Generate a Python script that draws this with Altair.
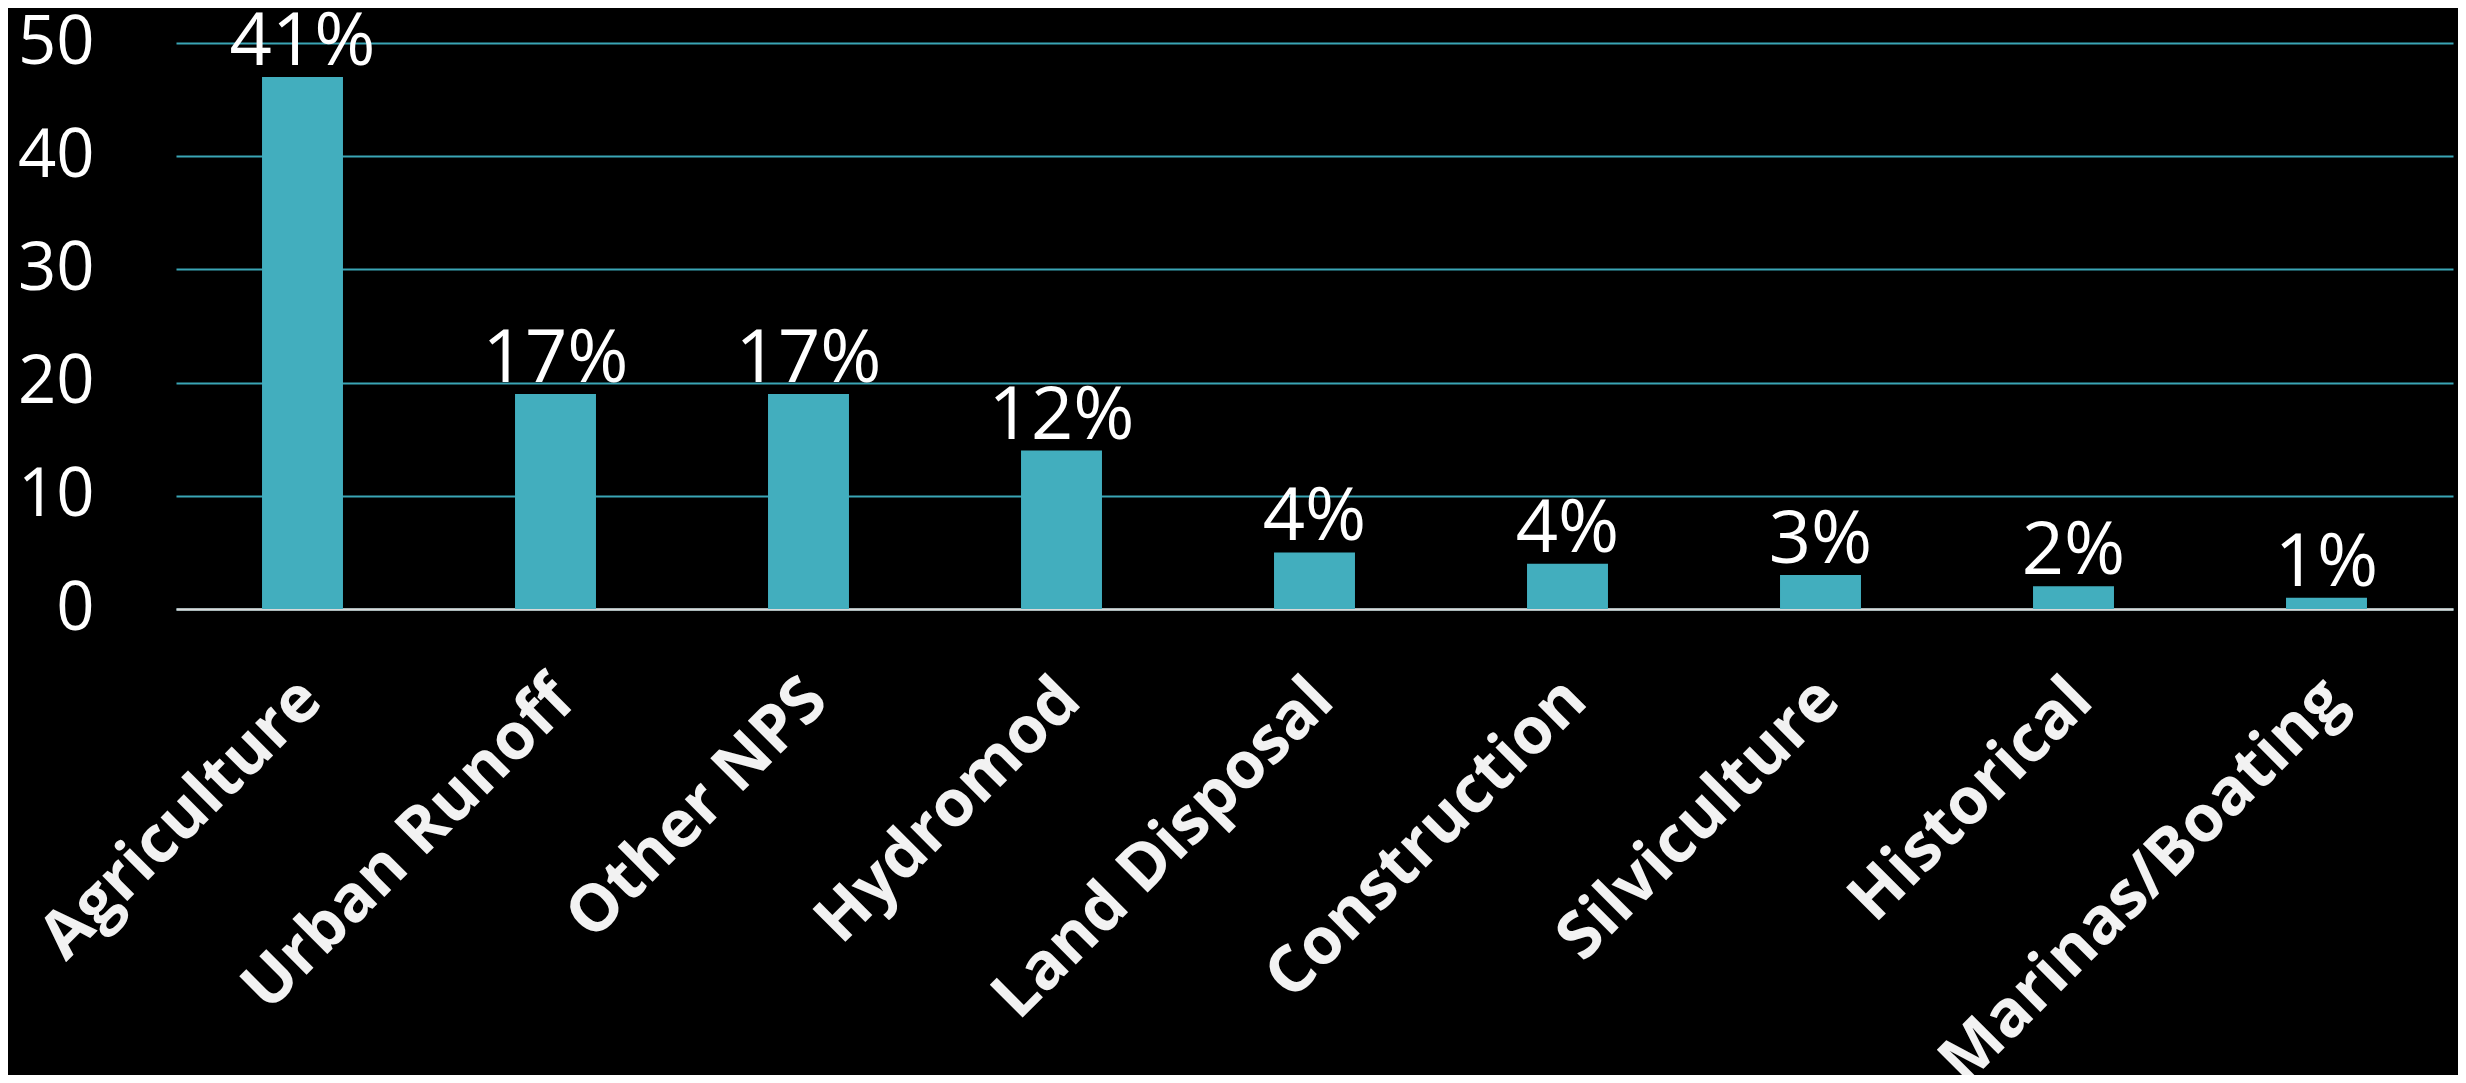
import altair as alt
import pandas as pd

categories = ["Agriculture", "Urban Runoff", "Other NPS", "Hydromod", "Land Disposal",
              "Construction", "Silviculture", "Historical", "Marinas/Boating"]
values = [47, 19, 19, 14, 5, 4, 3, 2, 1]
labels = ["41%", "17%", "17%", "12%", "4%", "4%", "3%", "2%", "1%"]
y_ticks = [0, 10, 20, 30, 40, 50]

df = pd.DataFrame({"category": categories, "value": values, "label": labels})

x_enc = alt.X(
    "category:N",
    sort=categories,
    scale=alt.Scale(paddingInner=0.68, paddingOuter=0.34),
    axis=alt.Axis(
        title=None,
        labelAngle=-45,
        labelAlign="right",
        labelBaseline="middle",
        labelFont="Open Sans",
        labelFontSize=65,
        labelFontWeight="bold",
        labelColor="#F2F2F2",
        labelLimit=2000,
        labelPadding=80,
        labelOffset=8,
        ticks=False,
        domain=True,
        domainColor="#D9D9D9",
        domainWidth=2.5,
        grid=False,
    ),
)

y_enc = alt.Y(
    "value:Q",
    scale=alt.Scale(domain=[0, 50], nice=False),
    axis=alt.Axis(
        title=None,
        values=y_ticks,
        grid=True,
        gridColor="#3AA5B5",
        gridWidth=2,
        domain=False,
        ticks=False,
        labelFont="Open Sans",
        labelFontSize=67,
        labelColor="#FFFFFF",
        labelPadding=82,
    ),
)

base = alt.Chart(df).encode(x=x_enc, y=y_enc)

text = base.mark_text(
    baseline="alphabetic", dy=-12, fontSize=74, font="Open Sans", color="#FFFFFF"
).encode(text="label:N")

bars = base.mark_bar(color="#42AEBE")

chart = (
    alt.layer(text, bars)
    .properties(
        width=2277,
        height=566,
        autosize=alt.AutoSizeParams(type="none"),
        padding={"left": 168, "top": 35, "right": 5, "bottom": 466},
        background="#000000",
    )
    .configure_view(stroke=None)
)

chart.save("out.html", embed_options={"renderer": "svg", "actions": False})
